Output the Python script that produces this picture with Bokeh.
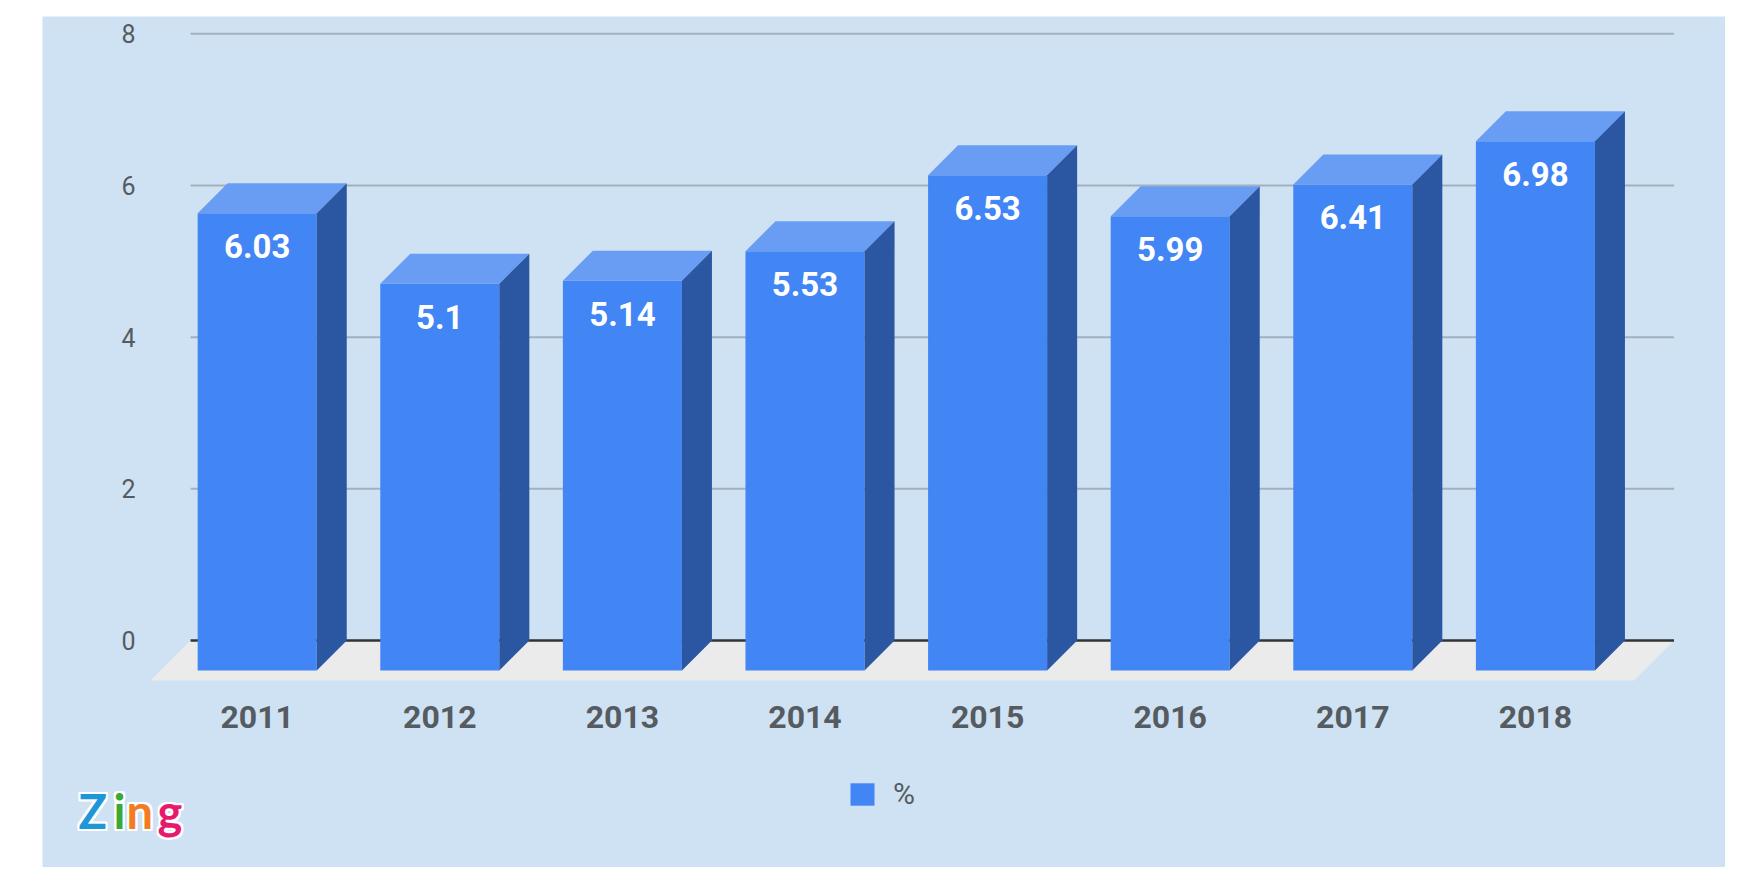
from bokeh.plotting import figure
from bokeh.models import ColumnDataSource, Legend, LegendItem, Label
from bokeh.embed import file_html
from bokeh.resources import INLINE
from bokeh.core.properties import value

# data
years = ["2011", "2012", "2013", "2014", "2015", "2016", "2017", "2018"]
pct = [6.03, 5.1, 5.14, 5.53, 6.53, 5.99, 6.41, 6.98]
y_ticks = [0, 2, 4, 6, 8]
series_name = "%"
logo_letters = ["Z", "i", "n", "g"]
logo_colors = ["#1d97d7", "#3aa935", "#f47b20", "#e8196c"]

# look
BG = "#cfe2f3"
FRONT, TOP, SIDE = "#4285f4", "#699cf3", "#2b56a1"
FLOOR = "#ebebeb"
GRID = "#a2b0be"
TXT = "#555b61"

# the frame fills the whole light blue card; x unit = one category,
# front faces centred on integers, y unit = value on the back wall
FRAME_W, FRAME_H = 1683, 851
X0, X1 = -1.1758, 8.041
Y0, Y1 = -2.994, 8.229
px_x = FRAME_W / (X1 - X0)
px_y = FRAME_H / (Y1 - Y0)

DEPTH = 30          # bar depth, px
FLOOR_DEPTH = 40    # floor depth, px
BAR_W = 0.652       # in category units
PLANE_LO, PLANE_HI = -0.365, 7.759   # back wall extent in x
YLAB_X = -0.6665    # right edge of the value-axis labels
YEAR_Y = -1.015     # where the category labels sit
LOGO_X, LOGO_Y = -0.978, -2.255

dx, dy = DEPTH / px_x, DEPTH / px_y
fdx, fdy = FLOOR_DEPTH / px_x, FLOOR_DEPTH / px_y

n = len(years)
xs = list(range(n))

p = figure(frame_width=FRAME_W, frame_height=FRAME_H, x_range=(X0, X1), y_range=(Y0, Y1),
           output_backend="svg", toolbar_location=None,
           x_axis_location=None, y_axis_location=None,
           min_border_left=0, min_border_right=0, min_border_top=0, min_border_bottom=0)
p.margin = (16, 0, 0, 42)
p.background_fill_color = BG
p.border_fill_color = BG
p.outline_line_color = None
p.grid.visible = False

# floor
p.patch([PLANE_LO, PLANE_HI, PLANE_HI - fdx, PLANE_LO - fdx], [0, 0, -fdy, -fdy],
        fill_color=FLOOR, line_color=None)

# grid lines on the back wall
grid_y = [t for t in y_ticks if t != 0]
p.segment(x0=[PLANE_LO] * len(grid_y), y0=grid_y, x1=[PLANE_HI] * len(grid_y), y1=grid_y,
          line_color=GRID, line_width=2)
p.segment(x0=[PLANE_LO], y0=[0], x1=[PLANE_HI], y1=[0], line_color="#333333", line_width=2.5)

# value axis labels
p.text(x=[YLAB_X] * len(y_ticks), y=y_ticks, text=[str(t) for t in y_ticks],
       text_align="right", text_baseline="middle", text_color=TXT,
       text_font=value("Roboto"), text_font_size="25px")

# 3d bars
front_l = [x - BAR_W / 2 for x in xs]
front_r = [x + BAR_W / 2 for x in xs]
src = ColumnDataSource(dict(
    left=front_l, right=front_r, bottom=[-dy] * n, top=[v - dy for v in pct],
))
front = p.quad(left="left", right="right", bottom="bottom", top="top", source=src,
               fill_color=FRONT, line_color=None)

top_xs = [[l, l + dx, r + dx, r] for l, r in zip(front_l, front_r)]
top_ys = [[v - dy, v, v, v - dy] for v in pct]
p.patches(top_xs, top_ys, fill_color=TOP, line_color=None)

side_xs = [[r, r + dx, r + dx, r] for r in front_r]
side_ys = [[v - dy, v, 0, -dy] for v in pct]
p.patches(side_xs, side_ys, fill_color=SIDE, line_color=None)

# value labels on front faces
p.text(x=xs, y=[v - 63 / px_y for v in pct], text=[str(v) for v in pct],
       text_align="center", text_baseline="middle", text_color="white",
       text_font=value("Roboto"), text_font_style="bold", text_font_size="33px")

# category labels under the front faces
p.text(x=xs, y=[YEAR_Y] * n, text=years,
       text_align="center", text_baseline="middle", text_color=TXT,
       text_font=value("Roboto"), text_font_style="bold", text_font_size="32px")

# legend below the bars
leg = Legend(items=[LegendItem(label=series_name, renderers=[front])],
             location=(805, 56), orientation="horizontal",
             glyph_width=30, glyph_height=28, label_standoff=16,
             label_text_font="Roboto", label_text_font_size="30px", label_text_color=TXT,
             padding=0, margin=0, border_line_color=None, background_fill_alpha=0)
p.add_layout(leg)

# Zing logo, bottom left
offs = [0, 35, 48, 79]
for ch, col, o in zip(logo_letters, logo_colors, offs):
    for hx, hy in [(-2, 0), (2, 0), (0, -2), (0, 2), (-2, -2), (2, 2), (-2, 2), (2, -2)]:
        p.add_layout(Label(x=LOGO_X, y=LOGO_Y, x_offset=o + hx, y_offset=hy, text=ch,
                           text_font="Lato", text_font_style="bold", text_font_size="47px",
                           text_color="white", text_baseline="alphabetic"))
    p.add_layout(Label(x=LOGO_X, y=LOGO_Y, x_offset=o, text=ch,
                       text_font="Lato", text_font_style="bold", text_font_size="47px",
                       text_color=col, text_baseline="alphabetic"))

open("out.html", "w").write(file_html(p, INLINE))
